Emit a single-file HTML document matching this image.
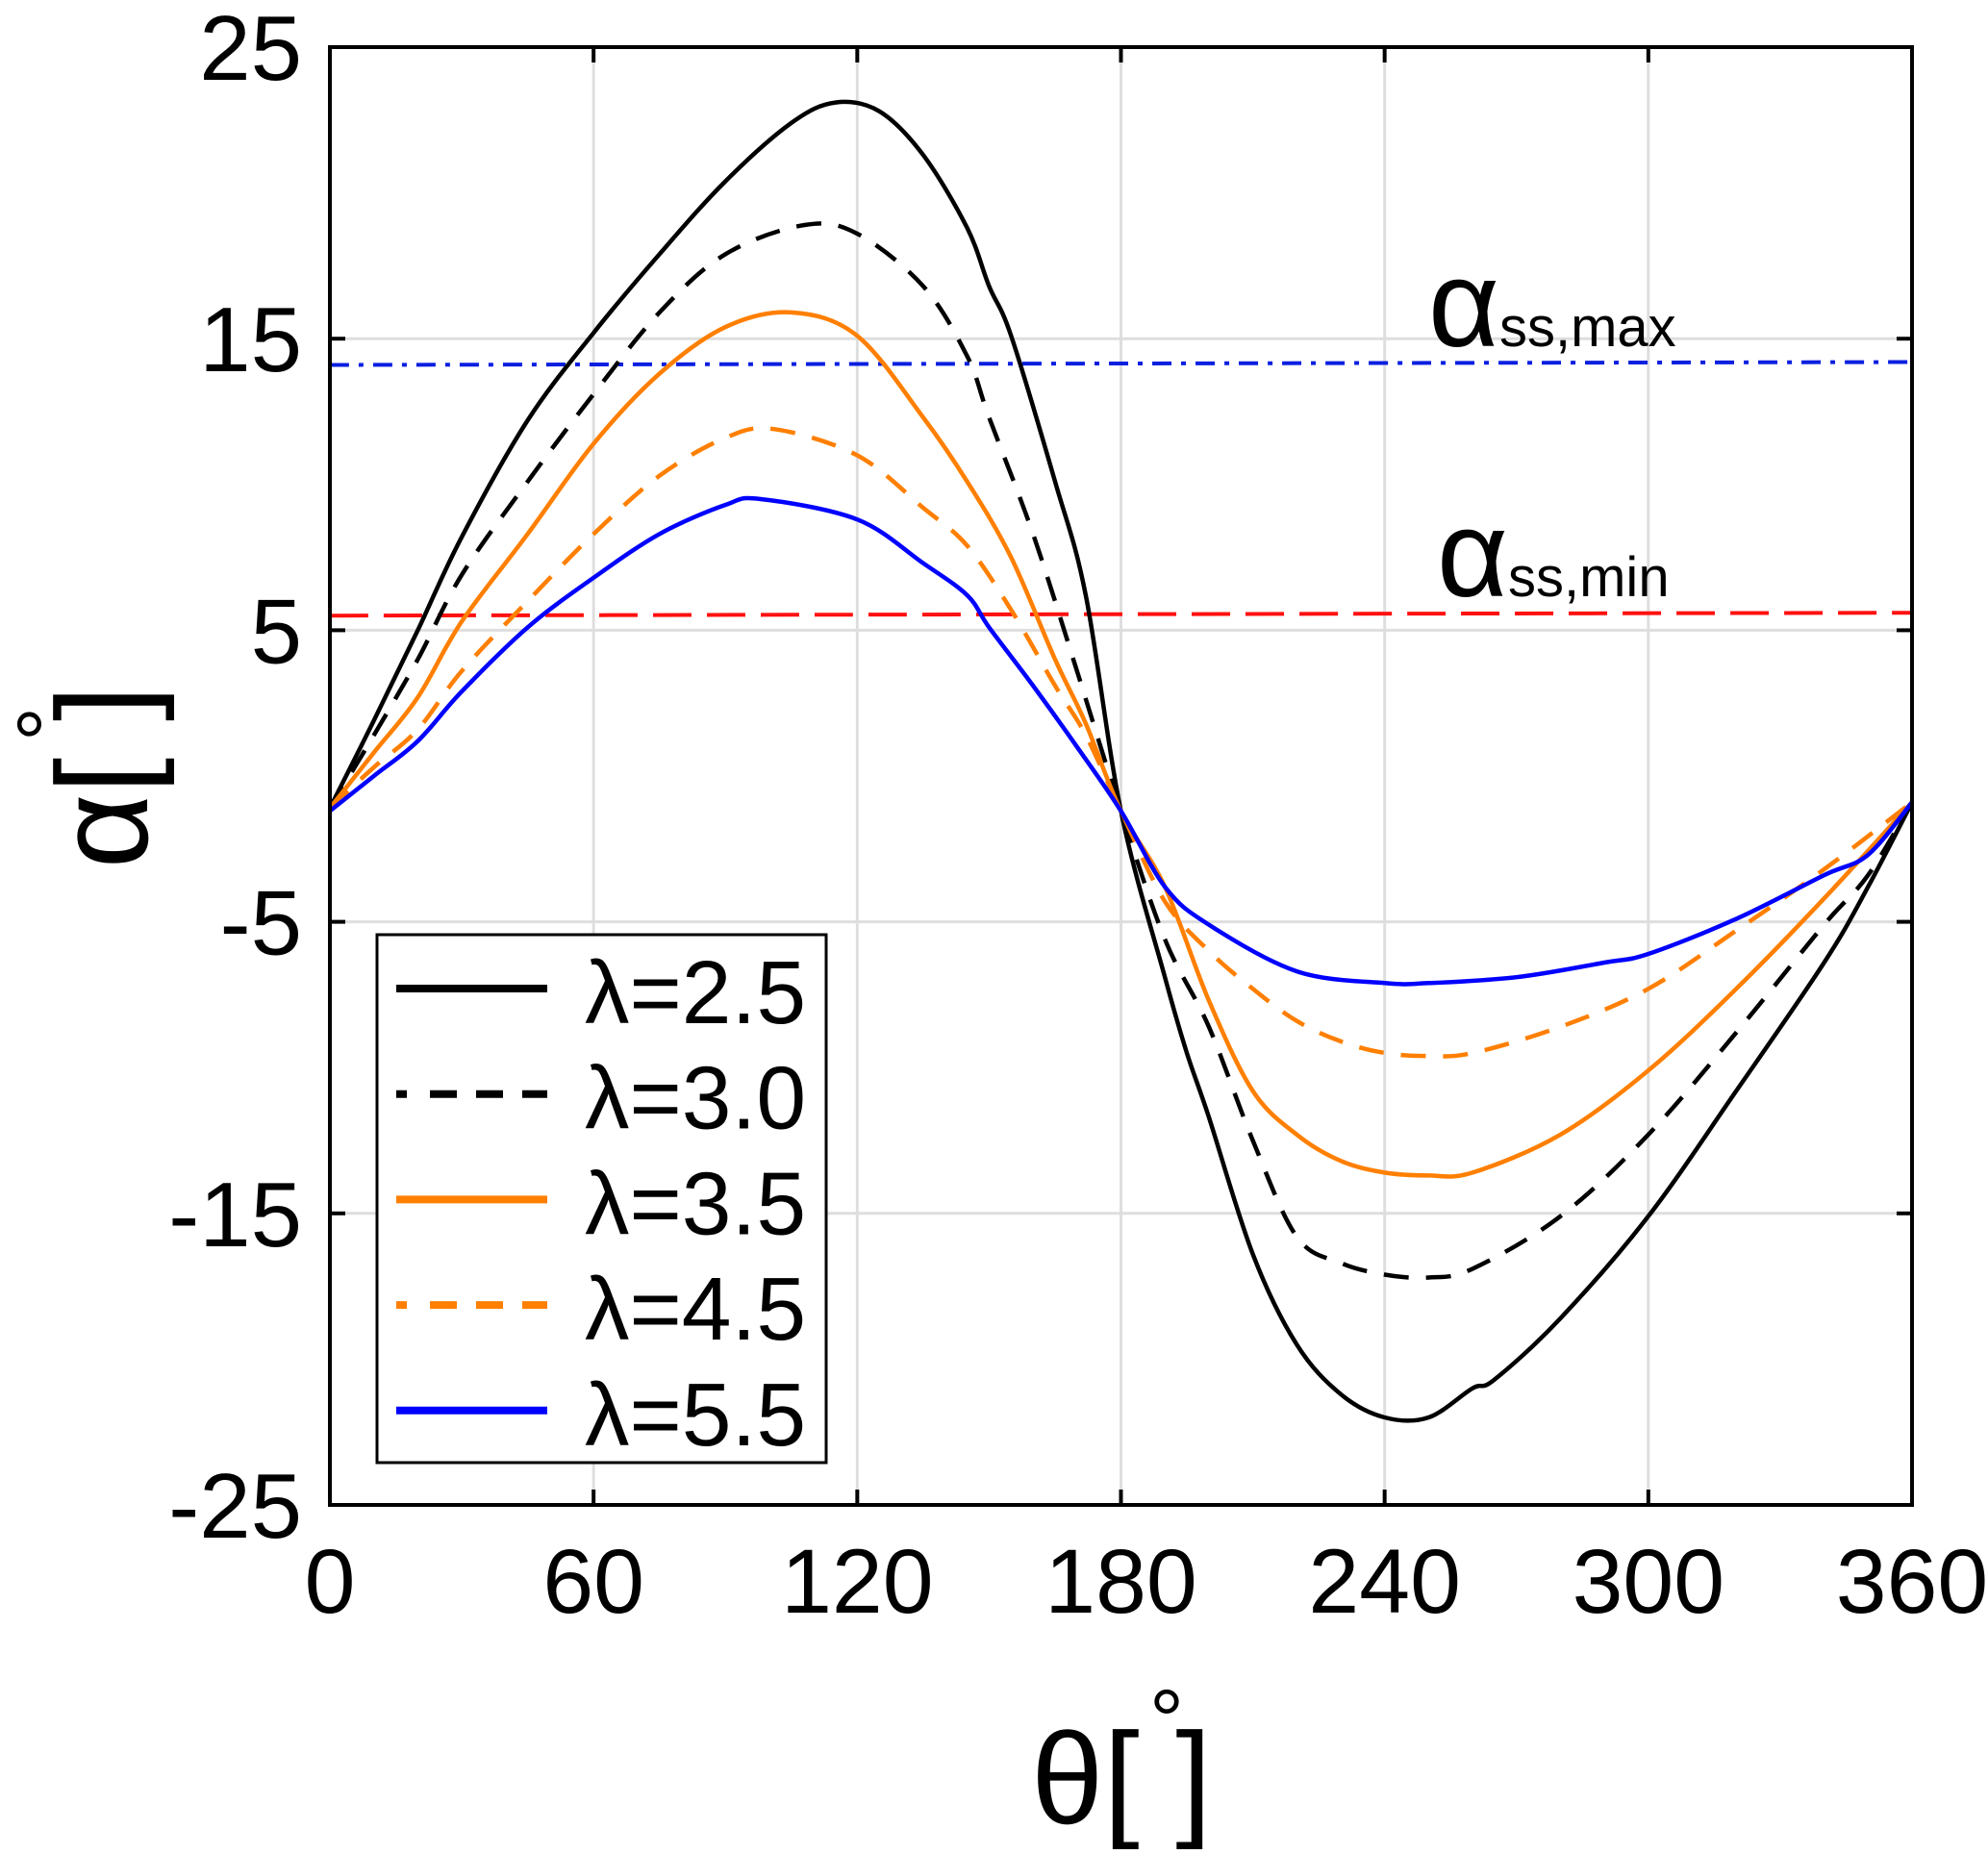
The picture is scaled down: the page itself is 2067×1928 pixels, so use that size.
<!DOCTYPE html>
<html><head><meta charset="utf-8"><style>
html,body{margin:0;padding:0;background:#fff;}
svg text{font-family:"Liberation Sans",Arial,sans-serif;fill:#000;}
</style></head><body>
<svg id="chart" width="2067" height="1923" viewBox="0 0 2067 1923" xmlns="http://www.w3.org/2000/svg">
<g id="grid"></g>
<g id="series"></g>
<g id="axes"></g>
<g id="legend"></g>
</svg>
<script>
const xTicks = [0, 60, 120, 180, 240, 300, 360];
const yTicks = [25, 15, 5, -5, -15, -25];
const seriesNames = ["λ=2.5", "λ=3.0", "λ=3.5", "λ=4.5", "λ=5.5"];
const thetaA = [0,10,20,30,45,60,75,90,105,115,125,135,145,150,155,165,172,180,190,195,200,210,220,230,240,250,260,265,280,300,320,340,350,360];
const lam25 = [-1.1,1.9,5.0,8.2,12.2,15.2,17.9,20.4,22.4,23.1,22.8,21.3,18.8,16.8,15.1,10.1,6.2,-1.2,-6.9,-9.5,-11.7,-16.4,-19.5,-21.2,-22.0,-22.0,-21.0,-20.7,-18.6,-15.1,-10.8,-6.4,-3.8,-0.9];
const thetaB = [0,10,20,30,45,60,75,90,108,120,135,145,150,160,170,180,190,200,210,220,230,240,250,260,280,300,320,340,350,360];
const lam30 = [-1.1,1.4,4.0,6.9,10.1,13.1,15.9,17.9,18.9,18.6,16.8,14.4,12.3,8.3,3.6,-1.2,-5.6,-8.6,-12.5,-15.8,-16.7,-17.1,-17.2,-16.9,-15.1,-12.3,-8.8,-5.1,-3.4,-0.9];
const thetaC = [0,10,20,30,45,60,75,90,105,120,135,145,155,165,172,180,190,200,210,220,230,240,250,260,280,300,320,340,360];
const lam35 = [-1.1,0.8,2.7,5.3,8.3,11.4,13.8,15.4,15.9,15.1,12.3,10.1,7.5,4.0,1.8,-1.2,-3.8,-7.7,-10.8,-12.3,-13.2,-13.6,-13.7,-13.6,-12.3,-10.1,-7.3,-4.2,-0.9];
const thetaD = [0,10,20,30,45,60,75,90,101,120,135,145,155,165,172,180,190,200,210,220,230,240,250,260,280,300,320,340,360];
const lam45 = [-1.1,0.3,1.6,3.6,6.0,8.3,10.3,11.6,11.9,11.0,9.2,7.9,5.7,3.1,1.4,-1.2,-4.3,-6.0,-7.3,-8.4,-9.1,-9.5,-9.6,-9.5,-8.6,-7.3,-5.3,-3.2,-0.9];
const thetaE = [0,10,20,30,45,60,75,90,98,120,135,145,150,160,170,180,190,200,220,240,250,270,290,300,320,340,350,360];
const lam55 = [-1.2,0.0,1.2,2.9,5.1,6.8,8.3,9.3,9.5,8.8,7.3,6.2,5.1,3.1,1.0,-1.2,-3.8,-5.1,-6.7,-7.1,-7.1,-6.9,-6.4,-6.1,-4.9,-3.4,-2.7,-0.9];
const refTheta = [0, 360];
const ssMax = [14.1, 14.2];
const ssMin = [5.5, 5.6];

const L=343,R=1988,T=49,B=1565;
const xs = v => L + (v/360)*(R-L);
const ys = v => T + (25 - v)/50*(B-T);
const NS="http://www.w3.org/2000/svg";
function mk(tag, parent, attrs){const e=document.createElementNS(NS,tag);for(const k in attrs)e.setAttribute(k,attrs[k]);parent.appendChild(e);return e;}
const grid=document.getElementById('grid'), axes=document.getElementById('axes'), ser=document.getElementById('series'), leg=document.getElementById('legend');

xTicks.forEach(t=>{
  const g=mk('line',grid,{x1:xs(t),x2:xs(t),y1:T,y2:B,stroke:'#dedede','stroke-width':3});
  
  
  const tk=mk('line',axes,{x1:xs(t),x2:xs(t),y1:B,y2:B-16,stroke:'#000','stroke-width':4});
  
  
  const tk2=mk('line',axes,{x1:xs(t),x2:xs(t),y1:T,y2:T+16,stroke:'#000','stroke-width':4});
  
  
  const tx=mk('text',axes,{x:xs(t),y:1677,'font-size':95,'text-anchor':'middle'});
  tx.textContent=t;
  
  
});
yTicks.forEach(t=>{
  const g=mk('line',grid,{x1:L,x2:R,y1:ys(t),y2:ys(t),stroke:'#dedede','stroke-width':3});
  
  
  const tk=mk('line',axes,{x1:L,x2:L+16,y1:ys(t),y2:ys(t),stroke:'#000','stroke-width':4});
  
  
  const tk2=mk('line',axes,{x1:R,x2:R-16,y1:ys(t),y2:ys(t),stroke:'#000','stroke-width':4});
  
  
  const tx=mk('text',axes,{x:314,y:ys(t)+34,'font-size':96,'text-anchor':'end'});
  tx.textContent=t;
  
  
});
const frame=mk('rect',axes,{x:L,y:T,width:R-L,height:B-T,fill:'none',stroke:'#000','stroke-width':4});



function smoothPath(xsArr, ysArr){
  const p=xsArr.map((x,i)=>[xs(x),ys(ysArr[i])]);
  let d='M'+p[0][0].toFixed(1)+','+p[0][1].toFixed(1);
  for(let i=0;i<p.length-1;i++){
    const p0=p[i-1]||p[i],p1=p[i],p2=p[i+1],p3=p[i+2]||p2;
    const c1=[p1[0]+(p2[0]-p0[0])/6,p1[1]+(p2[1]-p0[1])/6];
    const c2=[p2[0]-(p3[0]-p1[0])/6,p2[1]-(p3[1]-p1[1])/6];
    d+=' C'+c1[0].toFixed(1)+','+c1[1].toFixed(1)+' '+c2[0].toFixed(1)+','+c2[1].toFixed(1)+' '+p2[0].toFixed(1)+','+p2[1].toFixed(1);
  }
  return d;
}
const rmax=mk('path',ser,{d:smoothPath(refTheta,ssMax),fill:'none',stroke:'#0a1fe0','stroke-width':4,'stroke-dasharray':'20 10 5 10'});


const rmin=mk('path',ser,{d:smoothPath(refTheta,ssMin),fill:'none',stroke:'#ff1010','stroke-width':4,'stroke-dasharray':'40 16'});



const styles=[
  {x:thetaA,y:lam25,c:'#000',d:'',n:'series-lambda-2-5'},
  {x:thetaB,y:lam30,c:'#000',d:'26 18',n:'series-lambda-3-0'},
  {x:thetaC,y:lam35,c:'#ff7f00',d:'',n:'series-lambda-3-5'},
  {x:thetaD,y:lam45,c:'#ff7f00',d:'26 18',n:'series-lambda-4-5'},
  {x:thetaE,y:lam55,c:'#0000ff',d:'',n:'series-lambda-5-5'}
];
styles.forEach(s=>{
  const a={d:smoothPath(s.x,s.y),fill:'none',stroke:s.c,'stroke-width':4.5};
  if(s.d)a['stroke-dasharray']=s.d;
  const p=mk('path',ser,a);
  
  
});

const a1=mk('text',axes,{x:1485,y:360,'font-size':128});


a1.innerHTML='α<tspan font-size="58">ss,max</tspan>';
const a2=mk('text',axes,{x:1494,y:620,'font-size':128});


a2.innerHTML='α<tspan font-size="58">ss,min</tspan>';

const box=mk('rect',leg,{x:392,y:972,width:467,height:549,fill:'#fff',stroke:'#000','stroke-width':3});


seriesNames.forEach((nm,i)=>{
  const y=1028+i*109.7;
  const s=styles[i];
  const a={x1:412,x2:569,y1:y,y2:y,stroke:s.c,'stroke-width':8};
  if(s.d)a['stroke-dasharray']='11 24 28 20 28 20 28';
  const ln=mk('line',leg,a);
  
  
  const t=mk('text',leg,{x:608,y:y+36,'font-size':93});
  t.textContent=nm;
  
  
});
</script>
<svg style="position:absolute;left:0;top:0" width="2067" height="1923">
<g transform="translate(153,808) rotate(-90)">
<text x="0" y="0" font-size="135" text-anchor="middle" style="font-family:'Liberation Sans',sans-serif">α[ ]</text>
<text x="55" y="-72" font-size="90" text-anchor="middle" style="font-family:'Liberation Sans',sans-serif">°</text>
</g>
<g>
<text x="1166" y="1896" font-size="135" text-anchor="middle" style="font-family:'Liberation Sans',sans-serif">θ[ ]</text>
<text x="1213" y="1820" font-size="90" text-anchor="middle" style="font-family:'Liberation Sans',sans-serif">°</text>
</g>
</svg>
</body></html>
